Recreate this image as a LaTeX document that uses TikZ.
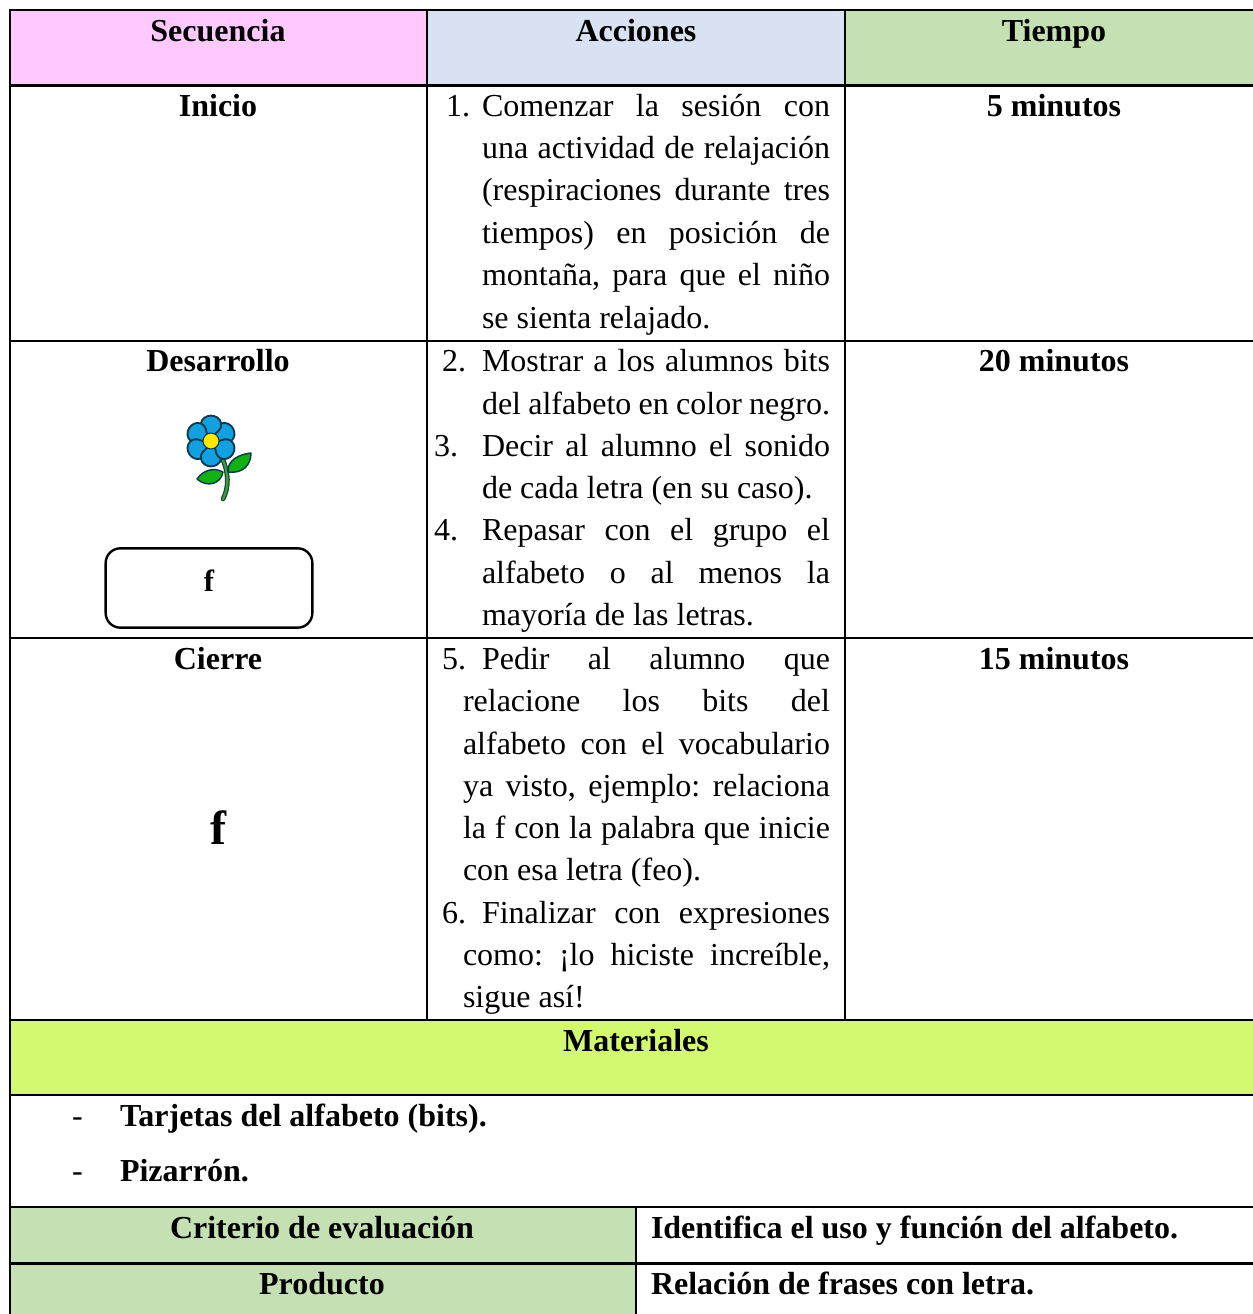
\documentclass[tikz,border=0pt]{standalone}
\usepackage{fontspec}
\setmainfont{Liberation Serif}
\frenchspacing
\definecolor{cpink}{HTML}{FFC9FF}
\definecolor{cblue}{HTML}{D9E2F3}
\definecolor{cgreen}{HTML}{C5E0B3}
\definecolor{clime}{HTML}{D3F970}
\definecolor{cpetal}{HTML}{12A0E0}
\definecolor{coutl}{HTML}{0B3B4F}
\definecolor{cleaf}{HTML}{12B012}
\definecolor{cstem}{HTML}{3A9A45}
\definecolor{cstemo}{HTML}{1B4A2A}
\definecolor{cyel}{HTML}{FFE800}
\newcommand{\bodyf}{\fontsize{24}{28}\selectfont}
\newcommand{\jl}[5]{\node[txt,anchor=base west] (#1) at (#2,#3) {\makebox[\dimexpr #4pt*3/4\relax][s]{#5}};}
\newcommand{\lft}[4]{\node[txt,anchor=base west] (#1) at (#2,#3) {#4};}
\newcommand{\hc}[4]{\node[txt,anchor=base,font=\bodyf\bfseries] (#1) at (#2,#3) {#4};}
\tikzset{
  txt/.style={inner sep=0pt,outer sep=0pt,font=\bodyf,text=black},
  boldtxt/.style={font=\bodyf\bfseries},
  rulestyle/.style={draw=black,line width=1.6pt},
  petal/.style={fill=cpetal,draw=coutl,line width=1.4pt,line join=round},
  leafstyle/.style={fill=cleaf,draw=coutl,line width=1.1pt,line join=round}
}
\begin{document}
\begin{tikzpicture}[x=0.75pt,y=-0.75pt]
\useasboundingbox (0,0) rectangle (1253,1314);
% fills
\fill[cpink] (10,10) rectangle (427,85.5);
\fill[cblue] (427,10) rectangle (845,85.5);
\fill[cgreen] (845,10) rectangle (1253,85.5);
\fill[clime] (10,1020) rectangle (1253,1095);
\fill[cgreen] (10,1207) rectangle (636,1314);
% rules
\draw[rulestyle] (1253,10) -- (10,10) -- (10,1314);
\draw[rulestyle] (10,85.5) -- (1253,85.5);
\draw[rulestyle] (10,341) -- (1253,341);
\draw[rulestyle] (10,638) -- (1253,638);
\draw[rulestyle] (10,1020) -- (1253,1020);
\draw[rulestyle] (10,1095) -- (1253,1095);
\draw[rulestyle] (10,1207) -- (1253,1207);
\draw[rulestyle] (10,1263.5) -- (1253,1263.5);
\draw[rulestyle] (427,10) -- (427,1020);
\draw[rulestyle] (845,10) -- (845,1020);
\draw[rulestyle] (636,1207) -- (636,1314);
% headers
\hc{hs}{218}{41}{Secuencia}
\hc{ha}{636}{41}{Acciones}
\hc{ht}{1054}{41}{Tiempo}
\hc{ini}{218}{116}{Inicio}
\hc{t5}{1054}{116}{5 minutos}
\hc{des}{218}{371}{Desarrollo}
\hc{t20}{1054}{371}{20 minutos}
\hc{cie}{218}{669}{Cierre}
\hc{t15}{1054}{669}{15 minutos}
\hc{mat}{636}{1051}{Materiales}
\hc{cri}{322}{1238}{Criterio de evaluación}
\hc{pro}{322}{1294}{Producto}
% row 1
\lft{n1}{446}{116}{1.}
\jl{a1}{482}{116}{348}{Comenzar la sesión con}
\jl{a2}{482}{158}{348}{una actividad de relajación}
\jl{a3}{482}{200}{348}{(respiraciones durante tres}
\jl{a4}{482}{243}{348}{tiempos) en posición de}
\jl{a5}{482}{285}{348}{montaña, para que el niño}
\lft{a6}{482}{328}{se sienta relajado.}
% row 2
\lft{n2}{442}{371}{2.}
\jl{b1}{482}{371}{348}{Mostrar a los alumnos bits}
\jl{b2}{482}{414}{348}{del alfabeto en color negro.}
\lft{n3}{434}{456}{3.}
\jl{b3}{482}{456}{348}{Decir al alumno el sonido}
\lft{b4}{482}{498}{de cada letra (en su caso).}
\lft{n4}{434}{540}{4.}
\jl{b5}{482}{540}{348}{Repasar con el grupo el}
\jl{b6}{482}{583}{348}{alfabeto o al menos la}
\lft{b7}{482}{625}{mayoría de las letras.}
% row 3
\lft{n5}{442}{669}{5.}
\jl{c1}{482}{669}{348}{Pedir al alumno que}
\jl{c2}{463}{711}{367}{relacione los bits del}
\jl{c3}{463}{754}{367}{alfabeto con el vocabulario}
\jl{c4}{463}{796}{367}{ya visto, ejemplo: relaciona}
\jl{c5}{463}{838}{367}{la f con la palabra que inicie}
\lft{c6}{463}{880}{con esa letra (feo).}
\lft{n6}{442}{923}{6.}
\jl{c7}{482}{923}{348}{Finalizar con expresiones}
\jl{c8}{463}{965}{367}{como: ¡lo hiciste increíble,}
\lft{c9}{463}{1007}{sigue así!}
% materials
\lft{d1}{72}{1126}{-}
\node[txt,boldtxt,anchor=base west] (m1) at (120,1126) {Tarjetas del alfabeto (bits).};
\lft{d2}{72}{1181}{-}
\node[txt,boldtxt,anchor=base west] (m2) at (120,1181) {Pizarrón.};
\node[txt,boldtxt,anchor=base west] (r1) at (651,1238) {Identifica el uso y función del alfabeto.};
\node[txt,boldtxt,anchor=base west] (r2) at (651,1294) {Relación de frases con letra.};
% rounded box and letters
\node[draw=black,line width=1.8pt,rounded corners=11pt,minimum width=155pt,minimum height=59.5pt,inner sep=0pt] (fbox) at (209,588) {};
\node[txt,anchor=base,font=\fontsize{23}{27}\selectfont\bfseries] (fs) at (209,591) {f};
\node[txt,anchor=base,font=\fontsize{36}{40}\selectfont\bfseries] (fb) at (218,844) {f};
% flower
\draw[cstemo,line width=3.6pt,line cap=round] (222,458) .. controls (229,472) and (229,488) .. (223,499);
\draw[cstem,line width=1.7pt,line cap=round] (222,458) .. controls (229,472) and (229,488) .. (223,499);
\draw[leafstyle] (228,472) .. controls (227,460) and (240,454) .. (251,453) .. controls (251,464) and (244,474) .. cycle;
\draw[leafstyle] (197,479) .. controls (203,470) and (214,467) .. (223,472) .. controls (221,484) and (207,488) .. cycle;
\foreach \a in {30,90,...,330}{
  \draw[petal,shift={(211,441)},rotate=\a] (5,0) .. controls (8,-7) and (13,-11) .. (17.5,-10.2) .. controls (28,-8) and (28,8) .. (17.5,10.2) .. controls (13,11) and (8,7) .. cycle;
}
\fill[cyel,draw=coutl,line width=0.8pt] (211,441) circle (8);
\end{tikzpicture}
\end{document}
